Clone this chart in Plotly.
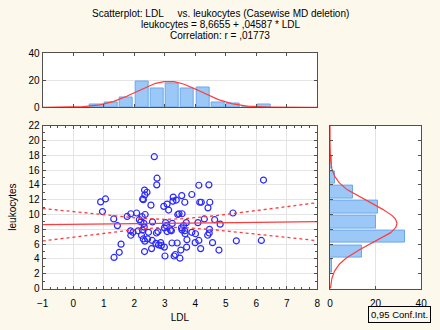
import numpy as np
import plotly.graph_objects as go

# ---- data ----
ldl = [0.90, 1.06, 0.96, 2.66, 2.75, 2.74, 2.34, 2.42, 2.35, 2.28, 2.30, 2.55, 2.97, 3.08, 3.13,
       3.28, 3.27, 3.38, 3.56, 3.66, 3.89, 4.12, 4.45, 4.15, 4.20, 4.48, 4.42, 6.24,
       1.33, 1.45, 1.57, 1.51, 1.34, 1.77, 1.89, 1.88, 1.89, 1.96,
       2.08, 2.13, 2.17, 2.22, 2.26, 2.32, 2.36, 2.24, 2.27, 2.33,
       2.30, 2.35, 2.34, 2.44, 2.47, 2.60, 2.57, 2.59, 2.73, 2.78,
       2.71, 2.80, 2.87, 2.89, 2.99, 3.01, 2.99, 3.03, 3.05, 3.08,
       3.19, 3.22, 3.25, 3.24, 3.41, 3.31, 3.35, 3.43, 3.47, 3.57,
       3.50, 3.53, 3.55, 3.57, 3.62, 3.66, 3.67, 3.71, 3.73, 3.72,
       3.89, 4.01, 4.00, 4.12, 4.09, 4.18, 4.30, 4.41, 4.46, 4.47,
       4.57, 4.64, 4.78, 4.82, 5.35, 6.17, 5.24]
leukocytes = [11.7, 12.1, 10.4, 17.8, 14.9, 14.0, 13.3, 13.0, 12.65, 12.1, 12.0, 11.26, 11.1, 11.4, 10.6,
              12.35, 11.8, 11.95, 12.55, 11.65, 12.7, 13.95, 14.0, 11.65, 11.65, 11.65, 10.9, 14.65,
              9.4, 8.5, 6.0, 4.9, 4.2, 9.74, 10.1, 7.8, 7.2, 7.6,
              10.2, 7.8, 9.3, 9.0, 9.7, 8.8, 10.0, 7.2, 7.9, 8.3,
              6.7, 6.4, 5.0, 6.7, 7.6, 9.0, 5.4, 6.5, 7.5, 7.7,
              6.1, 5.9, 6.2, 5.8, 5.6, 4.4, 8.2, 8.9, 8.5, 7.7,
              7.9, 7.8, 8.8, 6.15, 6.15, 4.4, 4.6, 10.0, 10.1, 10.1,
              4.1, 5.2, 8.2, 7.9, 8.5, 7.8, 7.4, 8.9, 6.6, 5.6,
              7.6, 7.4, 6.2, 6.5, 8.9, 5.4, 9.4, 7.2, 7.5, 8.0,
              6.2, 9.3, 5.2, 8.7, 6.45, 6.5, 10.2]

# histogram of LDL (bins of 0.5 from 0.5 to 6.5)
ldl_bin_centers = [0.75, 1.25, 1.75, 2.25, 2.75, 3.25, 3.75, 4.25, 4.75, 5.25, 5.75, 6.25]
ldl_counts = [2, 4, 7, 19, 14, 18, 14, 15, 4, 3, 0, 2]
# histogram of leukocytes (bins of 2 from 2 to 18)
leu_bin_centers = [3, 5, 7, 9, 11, 13, 15, 17]
leu_counts = [1, 14, 33, 20, 21, 10, 2, 1]

# regression from the title
b0, b1 = 8.6655, 0.04587
title_lines = ["Scatterplot: LDL\u00a0\u00a0\u00a0\u00a0 vs. leukocytes (Casewise MD deletion)",
               "leukocytes = 8,6655 + ,04587 * LDL",
               "Correlation: r = ,01773"]
x_ticks = list(range(-1, 9))
y_ticks = list(range(0, 23, 2))

# ---- derived curves ----
x = np.array(ldl); y = np.array(leukocytes)
n = len(x); xm = x.mean(); sxx = ((x - xm) ** 2).sum()
s = np.sqrt(((y - (b0 + b1 * x)) ** 2).sum() / (n - 2))
xs = np.linspace(-1, 8, 200)
fit = b0 + b1 * xs
half = 1.984 * s * np.sqrt(1 / n + (xs - xm) ** 2 / sxx)

def normal(v, grid, total, width):
    m, sd = np.mean(v), np.std(v, ddof=1)
    return total * width * np.exp(-0.5 * ((grid - m) / sd) ** 2) / (sd * np.sqrt(2 * np.pi))

top_curve = normal(x, xs, sum(ldl_counts), 0.5)
ys = np.linspace(0, 22, 200)
right_curve = normal(y, ys, sum(leu_counts), 2.0)

RED = "#ff3b3b"
BLUE = "#2a2aff"
BAR_FILL = "#9cc8f7"
BAR_LINE = "#6aa6ec"
BG = "#fcf8ec"
FRAME = "#505050"
FONT = "Liberation Sans, Arial, sans-serif"

fig = go.Figure()
# main scatter
fig.add_trace(go.Scatter(x=ldl, y=leukocytes, mode="markers",
                         marker=dict(symbol="circle-open", size=6, color=BLUE, line=dict(width=1.2, color=BLUE)),
                         xaxis="x", yaxis="y", showlegend=False))
fig.add_trace(go.Scatter(x=xs, y=fit, mode="lines", line=dict(color=RED, width=1.3),
                         xaxis="x", yaxis="y", showlegend=False))
fig.add_trace(go.Scatter(x=xs, y=fit + half, mode="lines", line=dict(color=RED, width=1.3, dash="dot"),
                         xaxis="x", yaxis="y", showlegend=False))
fig.add_trace(go.Scatter(x=xs, y=fit - half, mode="lines", line=dict(color=RED, width=1.3, dash="dot"),
                         xaxis="x", yaxis="y", showlegend=False))
# top histogram
fig.add_trace(go.Bar(x=ldl_bin_centers, y=ldl_counts, width=0.42,
                     marker=dict(color=BAR_FILL, line=dict(color=BAR_LINE, width=1)),
                     xaxis="x2", yaxis="y2", showlegend=False))
fig.add_trace(go.Scatter(x=xs, y=top_curve, mode="lines", line=dict(color=RED, width=1.2),
                         xaxis="x2", yaxis="y2", showlegend=False))
# right histogram
fig.add_trace(go.Bar(y=leu_bin_centers, x=leu_counts, orientation="h", width=1.7,
                     marker=dict(color=BAR_FILL, line=dict(color=BAR_LINE, width=1)),
                     xaxis="x3", yaxis="y3", showlegend=False))
fig.add_trace(go.Scatter(x=right_curve, y=ys, mode="lines", line=dict(color=RED, width=1.2),
                         xaxis="x3", yaxis="y3", showlegend=False))

axis_common = dict(showline=True, linecolor=FRAME, linewidth=1, mirror="allticks",
                   ticks="inside", ticklen=3, tickcolor=FRAME, zeroline=False,
                   gridcolor="#e4e4e4", gridwidth=1,
                   tickfont=dict(family=FONT, size=10, color="#000"))

fig.update_layout(
    width=440, height=330, margin=dict(l=0, r=0, t=0, b=0),
    paper_bgcolor=BG, plot_bgcolor="white", font=dict(family=FONT, size=10, color="#000"),
    bargap=0,
    xaxis=dict(domain=[0.0857, 0.727], range=[-1, 8], tickvals=x_ticks, anchor="y",
               ticklabelstandoff=5,
               minor=dict(ticks="inside", ticklen=2, dtick=0.25, tickcolor=FRAME),
               title=dict(text="LDL", font=dict(size=10), standoff=6), **axis_common),
    yaxis=dict(domain=[0.111, 0.622], range=[0, 22], tickvals=y_ticks, anchor="x",
               minor=dict(ticks="inside", ticklen=2, dtick=1, tickcolor=FRAME),
               title=dict(text="leukocytes", font=dict(size=10), standoff=10), **axis_common),
    xaxis2=dict(domain=[0.0857, 0.727], range=[-1, 8], tickvals=x_ticks, anchor="y2",
                showticklabels=False, showgrid=False, **axis_common),
    yaxis2=dict(domain=[0.679, 0.848], range=[0, 40], tickvals=[0, 20, 40], anchor="x2",
                **axis_common),
    xaxis3=dict(domain=[0.757, 0.970], range=[0, 40], tickvals=[0, 20, 40], anchor="y3",
                ticklabelstandoff=5, **axis_common),
    yaxis3=dict(domain=[0.111, 0.622], range=[0, 22], tickvals=y_ticks, anchor="x3",
                showticklabels=False, showgrid=False, **axis_common),
)

for i, (txt, py) in enumerate(zip(title_lines, [8.5, 20.5, 32])):
    fig.add_annotation(text=txt, x=220 / 440, y=1 - py / 330, xref="paper", yref="paper",
                       xanchor="center", yanchor="middle", showarrow=False,
                       font=dict(family=FONT, size=10, color="#000"))

fig.add_annotation(text="0,95 Conf.Int.", x=437 / 440, y=1 - 320 / 330, xref="paper", yref="paper",
                   xanchor="right", yanchor="middle", showarrow=False,
                   bordercolor="#000", borderwidth=1, borderpad=2,
                   font=dict(family=FONT, size=9.5, color="#000"))

fig.write_html("out.html", config={"displayModeBar": False},
               post_script="document.body.style.margin='0';document.body.style.overflow='hidden';")
